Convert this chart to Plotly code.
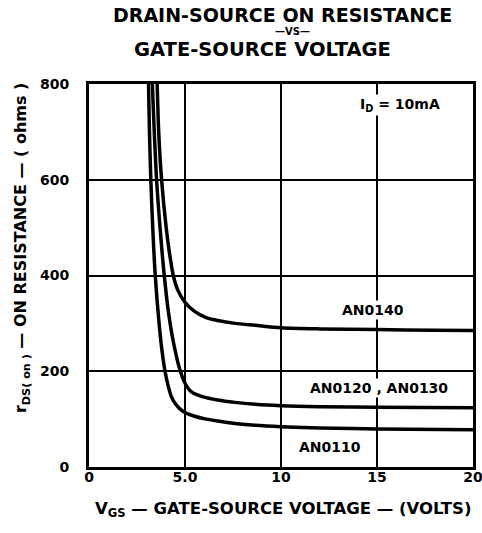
import plotly.graph_objects as go

# кривые
vgs_an0140 = [3.48, 3.55, 3.63, 3.78, 4.02, 4.18, 4.39, 4.62, 5.0, 5.5, 6.1, 6.7, 7.6, 8.65, 10, 12, 15, 18, 20]
r_an0140 = [900, 800, 700, 600, 500, 450, 400, 370, 344, 325, 312, 306, 300, 296, 291, 288.5, 287, 285.5, 285]

vgs_an0120 = [3.22, 3.3, 3.4, 3.52, 3.7, 3.92, 4.15, 4.4, 4.74, 5.0, 5.25, 5.45, 5.9, 6.7, 7.6, 8.65, 10, 12, 15, 20]
r_an0120 = [900, 800, 700, 600, 500, 400, 320, 260, 202, 175, 160, 154, 147, 140, 135, 131, 128, 126, 125, 124]

vgs_an0110 = [3.05, 3.1, 3.15, 3.22, 3.32, 3.45, 3.65, 3.78, 3.95, 4.12, 4.3, 4.5, 4.72, 5.0, 5.5, 6.1, 6.7, 7.6, 8.65, 10, 12, 15, 20]
r_an0110 = [900, 800, 700, 600, 500, 400, 300, 250, 202, 170, 146, 132, 122, 114, 106, 100, 96, 91, 87, 84, 81.5, 79.5, 78]

x_ticks = [0, 5, 10, 15, 20]
x_tick_labels = ["0", "5.0", "10", "15", "20"]
y_ticks = [0, 200, 400, 600, 800]

FONT = "DejaVu Sans, Arial, sans-serif"

fig = go.Figure()
for xs, ys in [(vgs_an0140, r_an0140), (vgs_an0120, r_an0120), (vgs_an0110, r_an0110)]:
    fig.add_trace(go.Scatter(
        x=xs, y=ys, mode="lines",
        line=dict(color="black", width=3.5, shape="spline", smoothing=0.8),
        showlegend=False, hoverinfo="skip",
    ))

# подписи
labels = [
    (14.8, 327, "AN0140"),
    (15.1, 165, "AN0120 , AN0130"),
    (12.55, 42, "AN0110"),
    (16.2, 756, "I<sub>D</sub> = 10mA"),
]
annotations = [
    dict(x=x, y=y, text=t, showarrow=False, bgcolor="white",
         xanchor="center", yanchor="middle",
         font=dict(size=14, color="black", family=FONT, weight="bold"))
    for x, y, t in labels
]


def paper_text(x, y, text, size, angle=0):
    return dict(x=x, y=y, xref="paper", yref="paper", showarrow=False,
                xanchor="center", yanchor="middle", textangle=angle, text=text,
                font=dict(size=size, color="black", family=FONT, weight="bold"))


# заголовок и оси
annotations += [
    paper_text(0.503, 1.180, "DRAIN-SOURCE ON RESISTANCE", 19),
    paper_text(0.529, 1.137, "—VS—", 10),
    paper_text(0.453, 1.091, "GATE-SOURCE VOLTAGE", 19.5),
    paper_text(0.505, -0.112, "V<sub>GS</sub> — GATE-SOURCE VOLTAGE — (VOLTS)", 16.5),
    paper_text(-0.174, 0.572, "r<sub>DS( on )</sub> — ON RESISTANCE — ( ohms )", 16, -90),
]

fig.update_layout(
    width=482, height=533,
    margin=dict(l=89, r=9, t=84, b=66),
    plot_bgcolor="white", paper_bgcolor="white",
    font=dict(family=FONT, color="black", size=14, weight="bold"),
    annotations=annotations,
    xaxis=dict(
        range=[0, 20], tickvals=x_ticks, ticktext=x_tick_labels,
        showgrid=True, gridcolor="black", gridwidth=1.5, zeroline=False,
        showline=True, linecolor="black", linewidth=3, mirror=True,
        ticks="", ticklabelstandoff=-5, automargin=False,
        ticklabeloverflow="allow",
        tickfont=dict(size=14, family=FONT, weight="bold"),
    ),
    yaxis=dict(
        range=[0, 800], tickvals=y_ticks,
        showgrid=True, gridcolor="black", gridwidth=1.5, zeroline=False,
        showline=True, linecolor="black", linewidth=3, mirror=True,
        ticks="", ticklabelstandoff=14, automargin=False,
        tickfont=dict(size=14, family=FONT, weight="bold"),
    ),
)

fig.write_html("out.html", config={"displayModeBar": False},
               post_script="document.body.style.margin='0';")
